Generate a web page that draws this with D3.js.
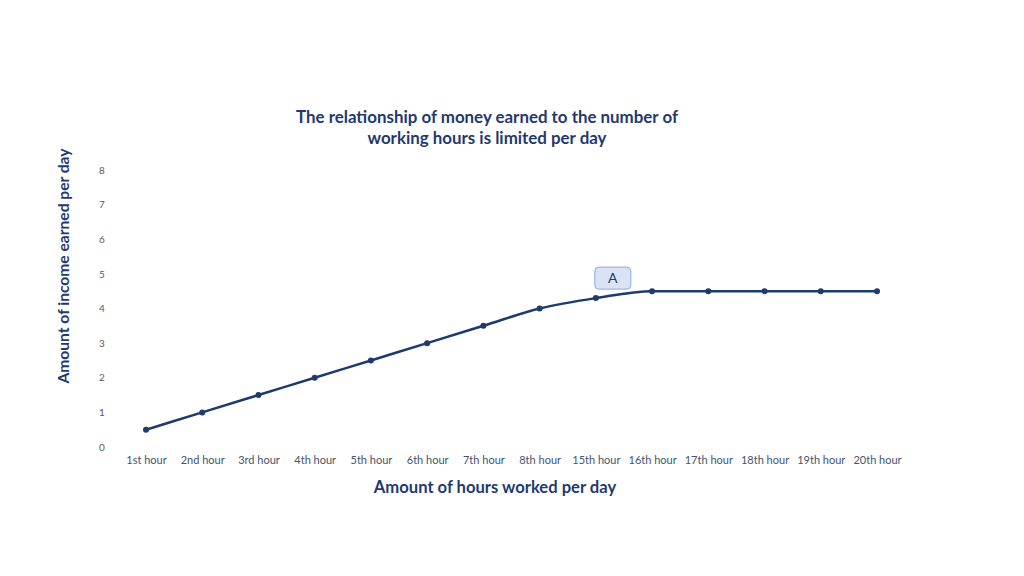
<!DOCTYPE html>
<html><head><meta charset="utf-8">
<script src="https://cdn.jsdelivr.net/npm/d3@7"></script>
<style>body{margin:0;background:#fff}svg{display:block}</style>
</head><body><svg id="c" width="1024" height="576"></svg>
<script>
const categories = ["1st hour","2nd hour","3rd hour","4th hour","5th hour","6th hour","7th hour","8th hour","15th hour","16th hour","17th hour","18th hour","19th hour","20th hour"];
const income = [0.5,1,1.5,2,2.5,3,3.5,4,4.3,4.5,4.5,4.5,4.5,4.5];
const yTicks = [0,1,2,3,4,5,6,7,8];
const titleLines = ["The relationship of money earned to the number of","working hours is limited per day"];
const xTitle = "Amount of hours worked per day";
const yTitle = "Amount of income earned per day";
const annotation = {category:"15th hour", value:4.3, label:"A"};

const navy = "#1f3a6e";
const font = "Lato, 'Open Sans', sans-serif";
const svg = d3.select("#c");
const x = d3.scalePoint().domain(categories).range([146,877]);
const y = d3.scaleLinear().domain([0,8]).range([447,170]);

// title
svg.append("text").attr("x",487).attr("y",0).attr("text-anchor","middle")
  .attr("font-family",font).attr("font-weight","bold").attr("font-size",16.9).attr("fill",navy)
  .selectAll("tspan").data(titleLines).join("tspan")
  .attr("x",487).attr("y",(d,i)=>123+i*21).text(d=>d);

// y axis labels
const yAxis = d3.axisLeft(y).tickValues(yTicks).tickSize(0).tickPadding(0);
const gy = svg.append("g").attr("transform","translate(102,0)").call(yAxis);
gy.select(".domain").remove();
gy.selectAll("text").attr("font-family",font).attr("font-size",10).attr("fill","#595959").attr("text-anchor","middle").attr("dx",0);

// x axis labels
const xAxis = d3.axisBottom(x).tickSize(0).tickPadding(0);
const gx = svg.append("g").attr("transform","translate(0,456)").call(xAxis);
gx.select(".domain").remove();
gx.selectAll("text").attr("font-family",font).attr("font-size",11).attr("fill","#44546a");

// axis titles
svg.append("text").attr("x",495).attr("y",493).attr("text-anchor","middle")
  .attr("font-family",font).attr("font-weight","bold").attr("font-size",16.6).attr("fill",navy).text(xTitle);
svg.append("text").attr("transform","translate(69,266) rotate(-90)").attr("text-anchor","middle")
  .attr("font-family",font).attr("font-weight","bold").attr("font-size",15.6).attr("fill",navy).text(yTitle);

// line
const line = d3.line().x((d,i)=>x(categories[i])).y(d=>y(d)).curve(d3.curveMonotoneX);
svg.append("path").datum(income).attr("d",line).attr("fill","none").attr("stroke",navy).attr("stroke-width",2.5);
svg.selectAll("circle.pt").data(income).join("circle").attr("class","pt")
  .attr("cx",(d,i)=>x(categories[i])).attr("cy",d=>y(d)).attr("r",3).attr("fill",navy);

// annotation
const ax = x(annotation.category)+17, ay = y(annotation.value)-20;
svg.append("rect").attr("x",ax-18).attr("y",ay-11).attr("width",36).attr("height",22).attr("rx",4)
  .attr("fill","#dae3f3").attr("stroke","#8faadc").attr("stroke-width",1);
svg.append("text").attr("x",ax).attr("y",ay+5).attr("text-anchor","middle")
  .attr("font-family",font).attr("font-size",14).attr("fill",navy).text(annotation.label);
</script></body></html>
